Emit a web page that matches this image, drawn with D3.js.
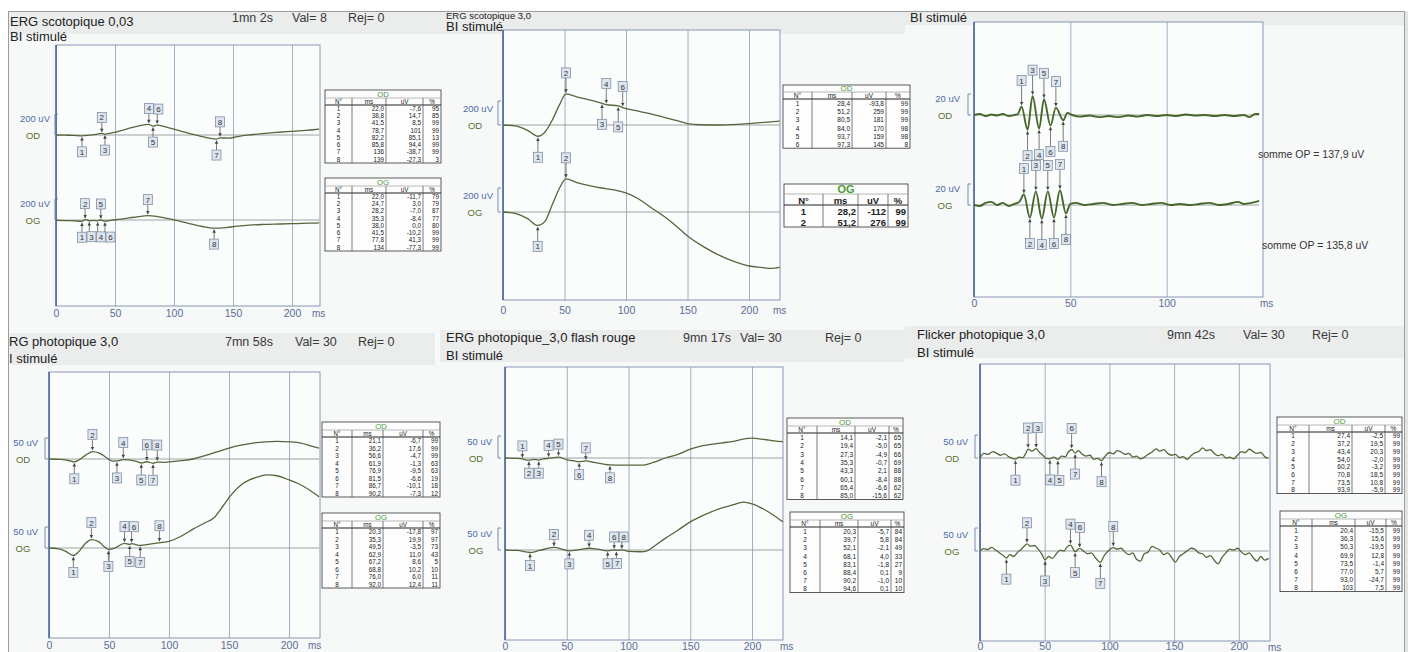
<!DOCTYPE html>
<html>
<head>
<meta charset="utf-8">
<script src="https://cdn.jsdelivr.net/npm/d3@7"></script>
<style>
  body { margin: 0; background: #fff; }
  svg { display: block; }
</style>
</head>
<body>
<svg></svg>
<script>
// ---- shared tick values
const tickMs = [0, 50, 100, 150, 200];
const tickMsOP = [0, 50, 100];
const tableHead = ["N°", "ms", "uV", "%"];

// ---- ERG scotopique 0,03  (traces: [ms, uV], tables: [n, ms, uV, %])
const scot003Info = ["1mn 2s", "Val= 8", "Rej= 0"];
const scot003OD = [[0,0],[8,-2],[15,-4],[22,-7.6],[28,-2],[34,6],[38.8,14.7],[41.5,8.5],[48,22],[56,45],[64,70],[72,92],[78.7,101],[82.2,85.1],[85.8,94.4],[92,80],[100,55],[108,30],[116,5],[124,-15],[130,-30],[136,-38.7],[139,-27.3],[146,-30],[154,-15],[162,-2],[172,10],[184,22],[196,32],[208,42],[218,50],[223,55]];
const scot003OG = [[0,-3],[8,-6],[15,-8],[22,-11.7],[24.7,3],[28.2,-7],[32,-3],[35.3,-8.4],[38,0],[41.5,-10.2],[47,-2],[55,8],[62,20],[70,33],[77.8,41.3],[85,35],[92,20],[100,2],[108,-20],[116,-42],[124,-62],[134,-77.3],[144,-72],[154,-58],[164,-48],[176,-42],[190,-38],[204,-34],[216,-30],[223,-28]];
const scot003TabOD = [[1,22.0,-7.6,95],[2,38.8,14.7,85],[3,41.5,8.5,99],[4,78.7,101,99],[5,82.2,85.1,13],[6,85.8,94.4,99],[7,136,-38.7,99],[8,139,-27.3,3]];
const scot003KindOD = ["T","P","T","P","T","P","T","P"];
const scot003TabOG = [[1,22.0,-11.7,79],[2,24.7,3.0,79],[3,28.2,-7.0,87],[4,35.3,-8.4,77],[5,38.0,0.0,80],[6,41.5,-10.2,99],[7,77.8,41.3,99],[8,134,-77.3,99]];
const scot003KindOG = ["T","P","T","T","P","T","P","T"];

// ---- ERG scotopique 3,0
const scot30OD = [[0,0],[10,-8],[20,-45],[28.4,-93.8],[34,-60],[40,40],[46,170],[51.2,259],[60,235],[70,210],[80.5,181],[84,170],[93.7,159],[97.3,145],[110,115],[125,80],[140,40],[150,12],[160,2],[175,0],[190,5],[200,12],[212,22],[225,32]];
const scot30OG = [[0,0],[10,-12],[20,-55],[28.2,-112],[34,-80],[40,60],[46,200],[51.2,276],[60,245],[70,220],[80,200],[90,185],[100,160],[110,110],[120,40],[130,-30],[140,-110],[150,-200],[160,-270],[170,-330],[180,-380],[190,-420],[200,-450],[210,-462],[218,-470],[225,-462]];
const scot30TabOD = [[1,28.4,-93.8,99],[2,51.2,259,99],[3,80.5,181,99],[4,84.0,170,98],[5,93.7,159,98],[6,97.3,145,8]];
const scot30KindOD = ["T","P","T","P","T","P"];
const scot30TabOG = [[1,28.2,-112,99],[2,51.2,276,99]];
const scot30KindOG = ["T","P"];

// ---- potentiels oscillatoires
const opOD = [[0,0],[3,1],[6,-1],[9,0.5],[12,-0.5],[15,1],[18,-1],[21,0],[22.8,1],[24.7,8],[27.8,-14],[30.4,18],[33.8,-13],[36.3,15],[39.7,-10],[42.5,7],[46.3,-5],[48.5,2],[51,0],[55,-1.5],[60,-0.5],[65,-2],[70,-1],[75,-2],[80,-0.5],[85,-1.5],[90,0],[95,-1],[100,0],[105,-1],[110,0.5],[115,-0.5],[120,0],[125,-1],[130,0],[135,-1],[140,0],[143,-2],[146,1],[148,1]];
const opOG = [[0,0],[3,-1],[6,2],[9,3],[12,0],[15,2],[18,-1],[21,1],[23.5,3],[25.9,10],[29,-12],[32.1,13],[35.2,-13],[38.3,13],[41.5,-12],[44.6,14],[47.7,-8],[50,1],[53,2],[57,0],[62,1],[67,2],[72,0],[77,1],[82,2],[87,0],[92,1],[97,2],[102,0],[107,1],[112,0],[117,1],[122,2],[127,0],[132,1],[137,3],[140,1],[144,2],[148,4]];
const opMarkOD = [[1,24.7,8],[2,27.8,-14],[3,30.4,18],[4,33.8,-13],[5,36.3,15],[6,39.7,-10],[7,42.5,7],[8,46.3,-5]];
const opMarkOG = [[1,25.9,10],[2,29.0,-12],[3,32.1,13],[4,35.2,-13],[5,38.3,13],[6,41.5,-12],[7,44.6,14],[8,47.7,-8]];
const opKind = ["P","T","P","T","P","T","P","T"];
const opSums = ["somme OP = 137,9 uV", "somme OP = 135,8 uV"];

// ---- ERG photopique 3,0
const phot30Info = ["7mn 58s", "Val= 30", "Rej= 0"];
const phot30OD = [[0,0],[10,-1],[15,-3],[21.1,-6.7],[25,-2],[30,8],[36.2,17.6],[42,14],[48,3],[53,-5],[56.6,-4.7],[61.9,-1.3],[66,-2],[72,-5],[76.9,-9.5],[81.5,-6.6],[86.7,-10.1],[90.2,-7.3],[95,-8],[100,-7],[110,-4],[120,0],[130,8],[140,17],[150,26],[160,33],[170,38],[180,41],[190,42],[200,41],[210,38],[218,31],[225,26]];
const phot30OG = [[0,0],[8,-2],[14,-8],[20.3,-17.8],[25,-8],[30,10],[35.3,19.9],[42,14],[46,3],[49.5,-3.5],[55,0],[62.9,11],[67.2,8.6],[68.8,10.2],[76,6],[84,9],[92,12.4],[100,16],[110,28],[120,45],[130,60],[137,71],[145,100],[150,120],[160,150],[167,162],[175,170],[182,174],[190,172],[200,162],[210,150],[217,138],[225,122]];
const phot30TabOD = [[1,21.1,-6.7,99],[2,36.2,17.6,99],[3,56.6,-4.7,99],[4,61.9,-1.3,63],[5,76.9,-9.5,63],[6,81.5,-6.6,19],[7,86.7,-10.1,18],[8,90.2,-7.3,12]];
const phot30TabOG = [[1,20.3,-17.8,97],[2,35.3,19.9,97],[3,49.5,-3.5,73],[4,62.9,11.0,43],[5,67.2,8.6,5],[6,68.8,10.2,10],[7,76.0,6.0,11],[8,92.0,12.4,11]];
const phot30Kind = ["T","P","T","P","T","P","T","P"];

// ---- ERG photopique_3,0 flash rouge
const rougeInfo = ["9mn 17s", "Val= 30", "Rej= 0"];
const rougeOD = [[0,0],[10,-1],[14.1,-2.1],[19.4,-5],[23,-3],[27.3,-4.9],[31,-2],[35.3,-0.7],[40,1],[43.3,2.1],[50,-4],[55,-6],[60.1,-8.4],[65.4,-6.6],[72,-10],[80,-14],[85,-15.6],[95,-16],[105,-16],[112,-16],[120,-10],[130,0],[140,8],[150,20],[160,28],[175,34],[185,38],[195,44],[200,45],[210,42],[218,39],[225,37]];
const rougeOG = [[0,0],[10,-1],[20.3,-5.7],[28,-1],[39.7,5.8],[46,2],[52.1,-2.1],[60,1],[68.1,4],[75,2],[83.1,-1.8],[88.4,0.1],[90.2,-1],[94.6,0.1],[100,-3],[110,-4],[115,-2],[120,7],[130,27],[140,45],[150,64],[160,78],[175,95],[185,103],[193,109],[200,105],[210,92],[218,78],[225,64]];
const rougeTabOD = [[1,14.1,-2.1,65],[2,19.4,-5.0,65],[3,27.3,-4.9,66],[4,35.3,-0.7,69],[5,43.3,2.1,88],[6,60.1,-8.4,88],[7,65.4,-6.6,62],[8,85.0,-15.6,62]];
const rougeKindOD = ["P","T","T","P","P","T","P","T"];
const rougeTabOG = [[1,20.3,-5.7,84],[2,39.7,5.8,84],[3,52.1,-2.1,49],[4,68.1,4.0,33],[5,83.1,-1.8,27],[6,88.4,0.1,9],[7,90.2,-1.0,10],[8,94.6,0.1,10]];
const rougeKindOG = ["T","P","T","P","T","P","T","P"];

// ---- Flicker photopique 3,0
const flickInfo = ["9mn 42s", "Val= 30", "Rej= 0"];
const flickOD = [[0,0],[3,10],[6,8],[10,14],[13,10],[16,6],[19,9],[22,3],[25,-1],[27.4,-2.5],[30,2],[33,1],[35,8],[37.2,19.5],[40,15],[43.4,20.3],[46,12],[49,5],[51,-1],[54,-2],[57,2],[60.2,-3.2],[63,4],[66,3],[68,12],[70.8,18.5],[73.5,10.8],[76,16],[79,8],[82,4],[85,6],[88,-3],[91,-1],[93.9,-5.9],[97,5],[100,12],[103,9],[106,16],[109,13],[112,8],[115,10],[118,2],[121,4],[124,-2],[127,2],[130,8],[133,13],[136,20],[139,15],[142,18],[145,10],[148,6],[151,8],[154,1],[157,3],[160,-3],[163,5],[166,11],[169,14],[172,22],[175,16],[178,18],[181,10],[184,5],[187,8],[190,0],[193,2],[196,-2],[199,6],[202,14],[205,12],[208,19],[211,14],[214,10],[217,12],[220,3],[223,-1]];
const flickOG = [[0,0],[3,5],[6,3],[9,8],[12,2],[15,-4],[18,-10],[20.4,-15.5],[23,-8],[26,-12],[29,-3],[32,4],[34,10],[36.3,15.6],[39,10],[42,12],[45,4],[48,-8],[50.3,-19.5],[53,-12],[56,-16],[59,-6],[62,2],[65,0],[67,8],[69.9,12.8],[73.5,-1.4],[77,5.7],[80,0],[83,-6],[86,-4],[89,-14],[93,-24.7],[96,-10],[99,0],[103,7.5],[106,4],[109,6],[112,-2],[115,-8],[118,-4],[121,-18],[124,-22],[127,-6],[130,-2],[133,10],[136,6],[139,2],[142,-8],[145,-4],[148,-14],[151,-24],[154,-12],[157,-6],[160,0],[163,6],[166,4],[169,-4],[172,-6],[175,-14],[178,-10],[181,-20],[184,-28],[187,-14],[190,-4],[193,4],[196,2],[199,6],[202,-2],[205,-8],[208,-4],[211,-14],[214,-22],[217,-12],[220,-20],[223,-16]];
const flickTabOD = [[1,27.4,-2.5,99],[2,37.2,19.5,99],[3,43.4,20.3,99],[4,54.0,-2.0,99],[5,60.2,-3.2,99],[6,70.8,18.5,99],[7,73.5,10.8,99],[8,93.9,-5.9,99]];
const flickKindOD = ["T","P","P","T","T","P","T","T"];
const flickTabOG = [[1,20.4,-15.5,99],[2,36.3,15.6,99],[3,50.3,-19.5,99],[4,69.9,12.8,99],[5,73.5,-1.4,99],[6,77.0,5.7,99],[7,93.0,-24.7,99],[8,103,7.5,99]];
const flickKindOG = ["T","P","T","P","T","P","T","P"];

// ---- layout of the six panels
const W = 1408, H = 652;
const FONT = '"Liberation Sans", Arial, sans-serif';

const panels = [
  { title: "ERG scotopique 0,03", sub: "BI stimulé", info: scot003Info,
    tx: 10, ty: 26, sy: 41, iy: 22, infoX: [232, 292, 348], band: [8, 11, 432, 23],
    x0: 56, x1: 320, xMax: 223.7, ticks: tickMs, pad: 3.5, msX: 312,
    barUV: 200, barPx: 21, labX: 50, eyeX: 33, brX: 55, off: 16,
    traces: [
      { eye: "OD", base: 135, pts: scot003OD, tab: scot003TabOD, kinds: scot003KindOD,
        table: { x: 325, y: 90, w: 116, cols: [27, 61, 98], hT: 8, hH: 7, hR: 7.25, fs: 6.3 } },
      { eye: "OG", base: 220, pts: scot003OG, tab: scot003TabOG, kinds: scot003KindOG,
        table: { x: 325, y: 178, w: 116, cols: [27, 61, 98], hT: 8, hH: 7, hR: 7.25, fs: 6.3 } }
    ] },
  { title: "ERG scotopique 3,0", titleFs: 9.5, sub: "BI stimulé",
    tx: 446, ty: 18.5, sy: 31, band: [440, 11, 465, 23],
    x0: 503, x1: 780, xMax: 225.2, ticks: tickMs, pad: 6.5, msX: 773,
    barUV: 200, barPx: 24, labX: 493, eyeX: 475, brX: 498, off: 21,
    traces: [
      { eye: "OD", base: 125, pts: scot30OD, tab: scot30TabOD, kinds: scot30KindOD,
        table: { x: 783, y: 85, w: 127, cols: [29, 69, 103], hT: 7, hH: 7, hR: 8.2, fs: 6.5 } },
      { eye: "OG", base: 212, pts: scot30OG, tab: scot30TabOG, kinds: scot30KindOG,
        table: { x: 784, y: 184, w: 124, cols: [39, 74, 104], hT: 10, hH: 11, hR: 11, fs: 9.5, bold: true } }
    ] },
  { sub: "BI stimulé",
    tx: 910, sy: 22, band: [905, 11, 499, 14],
    x0: 974, x1: 1263, xMax: 150, ticks: tickMsOP, pad: 2.5, msX: 1260,
    barUV: 20, barPx: 21, labX: 960, eyeX: 945, brX: 968, off: 26, thick: true,
    notes: [{ x: 1258, y: 158, text: opSums[0] }, { x: 1262, y: 249, text: opSums[1] }],
    traces: [
      { eye: "OD", base: 115, pts: opOD, tab: opMarkOD, kinds: opKind },
      { eye: "OG", base: 205, pts: opOG, tab: opMarkOG, kinds: opKind }
    ] },
  { title: "RG photopique 3,0", sub: "I stimulé", info: phot30Info,
    tx: 9, ty: 346, sy: 363, iy: 346, infoX: [225, 295, 358], band: [8, 333, 427, 32],
    x0: 49, x1: 320, xMax: 225.8, ticks: tickMs, pad: 3.5, msX: 308,
    barUV: 50, barPx: 21, labX: 38, eyeX: 23, brX: 45, off: 17,
    traces: [
      { eye: "OD", base: 459, pts: phot30OD, tab: phot30TabOD, kinds: phot30Kind,
        table: { x: 322, y: 422, w: 118, cols: [30, 61, 101], hT: 8, hH: 7, hR: 7.5, fs: 6.3 } },
      { eye: "OG", base: 548, pts: phot30OG, tab: phot30TabOG, kinds: phot30Kind,
        table: { x: 322, y: 513, w: 118, cols: [30, 61, 101], hT: 8, hH: 7, hR: 7.5, fs: 6.3 } }
    ] },
  { title: "ERG photopique_3,0 flash rouge", sub: "BI stimulé", info: rougeInfo,
    tx: 446, ty: 342, sy: 360, iy: 342, infoX: [683, 740, 825], band: [440, 330, 465, 32],
    x0: 505, x1: 783, xMax: 225.1, ticks: tickMs, pad: 2.5, msX: 780,
    barUV: 50, barPx: 22, labX: 492, eyeX: 476, brX: 498, off: 13,
    traces: [
      { eye: "OD", base: 458, pts: rougeOD, tab: rougeTabOD, kinds: rougeKindOD,
        table: { x: 787, y: 418, w: 116, cols: [30, 68, 102], hT: 8, hH: 7, hR: 8.3, fs: 6.5 } },
      { eye: "OG", base: 550, pts: rougeOG, tab: rougeTabOG, kinds: rougeKindOG,
        table: { x: 790, y: 512, w: 114, cols: [30, 68, 101], hT: 8, hH: 7, hR: 8.2, fs: 6.5 } }
    ] },
  { title: "Flicker photopique 3,0", sub: "BI stimulé", info: flickInfo,
    tx: 917, ty: 339, sy: 357, iy: 339, infoX: [1167, 1243, 1312], band: [905, 326, 499, 32],
    x0: 980, x1: 1270, xMax: 224.1, ticks: tickMs, pad: 2, msX: 1268,
    barUV: 50, barPx: 23, labX: 968, eyeX: 952, brX: 975, off: 21,
    traces: [
      { eye: "OD", base: 458, pts: flickOD, tab: flickTabOD, kinds: flickKindOD,
        table: { x: 1277, y: 417, w: 125, cols: [32, 75, 108], hT: 8, hH: 7, hR: 7.7, fs: 6.5 } },
      { eye: "OG", base: 551, pts: flickOG, tab: flickTabOG, kinds: flickKindOG,
        table: { x: 1280, y: 511, w: 122, cols: [32, 75, 106], hT: 8, hH: 7, hR: 8.2, fs: 6.5 } }
    ] }
];
// plot frames (perspective of the photo)
panels[0].top = 45;  panels[0].bottom = 306;
panels[1].top = 30;  panels[1].bottom = 300;
panels[2].top = 22;  panels[2].bottom = 297;
panels[3].top = 372; panels[3].bottom = 638;
panels[4].top = 367; panels[4].bottom = 640;
panels[5].top = 364; panels[5].bottom = 641;

const fmt = v => Math.abs(v) >= 100 ? String(Math.round(v)) : v.toFixed(1).replace(".", ",");

const svg = d3.select("svg").attr("width", W).attr("height", H)
    .attr("font-family", FONT);

svg.append("rect").attr("width", W).attr("height", H).attr("fill", "#fff");
svg.append("defs").append("clipPath").attr("id", "page")
  .append("rect").attr("x", 8).attr("y", 11).attr("width", 1396).attr("height", H - 11);

const root = svg.append("g").attr("clip-path", "url(#page)");
root.append("rect").attr("x", 8).attr("y", 11).attr("width", 1396).attr("height", H - 11)
    .attr("fill", "#f7f8f8");

panels.forEach(p => drawPanel(root, p));

// outer frame of the photographed sheet
svg.append("rect").attr("x", 1404.5).attr("y", 11).attr("width", 4).attr("height", H - 11).attr("fill", "#e3e4e4");
svg.append("path").attr("d", `M8.5,${H} V11.5 H1404.5 V${H}`)
    .attr("fill", "none").attr("stroke", "#9c9c9c").attr("stroke-width", 1);

function drawPanel(root, p) {
  const g = root.append("g");

  // title band
  g.append("rect").attr("x", p.band[0]).attr("y", p.band[1])
      .attr("width", p.band[2]).attr("height", p.band[3]).attr("fill", "#ebecec");
  if (p.title)
    g.append("text").attr("x", p.tx).attr("y", p.ty).attr("font-size", p.titleFs || 13)
        .attr("fill", "#222").text(p.title);
  if (p.sub)
    g.append("text").attr("x", p.tx).attr("y", p.sy).attr("font-size", 13)
        .attr("fill", "#222").text(p.sub);
  if (p.info)
    p.info.forEach((s, i) => g.append("text").attr("x", p.infoX[i]).attr("y", p.iy)
        .attr("font-size", 12.5).attr("fill", "#3a3a3a").text(s));

  const x = d3.scaleLinear().domain([0, p.xMax]).range([p.x0, p.x1]);

  // white plot area
  g.append("rect").attr("x", p.x0).attr("y", p.top)
      .attr("width", p.x1 - p.x0).attr("height", p.bottom - p.top).attr("fill", "#fbfcfc");

  // axis, its tick lines double as the vertical grid
  const ax = g.append("g").attr("transform", `translate(0,${p.bottom})`)
      .call(d3.axisBottom(x).tickValues(p.ticks)
        .tickSizeInner(-(p.bottom - p.top)).tickSizeOuter(0).tickPadding(p.pad));
  ax.attr("font-family", FONT).attr("font-size", 10.5);
  ax.select(".domain").remove();
  ax.selectAll(".tick line").attr("stroke", "#8e9cb9").attr("stroke-width", 0.8);
  ax.selectAll(".tick text").attr("fill", "#5b6e96");
  g.append("text").attr("x", p.msX).attr("y", p.bottom + p.pad + 7.5)
      .attr("font-size", 10).attr("fill", "#5b6e96").text("ms");

  // frame
  g.append("rect").attr("x", p.x0).attr("y", p.top)
      .attr("width", p.x1 - p.x0).attr("height", p.bottom - p.top)
      .attr("fill", "none").attr("stroke", "#7d8db0").attr("stroke-width", 0.9);
  g.append("line").attr("x1", p.x0).attr("x2", p.x0).attr("y1", p.top).attr("y2", p.bottom)
      .attr("stroke", "#3f5c99").attr("stroke-width", 1.3);

  p.traces.forEach(t => {
    const y = d3.scaleLinear().domain([0, p.barUV]).range([t.base, t.base - p.barPx]);

    // baseline
    g.append("line").attr("x1", p.x0).attr("x2", x(d3.max(t.pts, d => d[0])))
        .attr("y1", t.base).attr("y2", t.base)
        .attr("stroke", "#8a8a8a").attr("stroke-width", 0.8);

    // amplitude bar and labels
    g.append("path")
        .attr("d", `M${p.brX + 3},${y(p.barUV)} H${p.brX} V${y(0)} H${p.brX + 3}`)
        .attr("fill", "none").attr("stroke", "#6b7fa8").attr("stroke-width", 0.9);
    g.append("text").attr("x", p.labX).attr("y", t.base - 13).attr("text-anchor", "end")
        .attr("font-size", 9.5).attr("fill", "#4b6ea8").text(`${p.barUV} uV`);
    g.append("text").attr("x", p.eyeX).attr("y", t.base + 3.5).attr("text-anchor", "middle")
        .attr("font-size", 9.5).attr("fill", "#55702a").text(t.eye);

    // the trace
    const line = d3.line().x(d => x(d[0])).y(d => y(d[1])).curve(d3.curveMonotoneX);
    g.append("path").datum(t.pts).attr("d", line)
        .attr("fill", "none")
        .attr("stroke", p.thick ? "#46662a" : "#56663c")
        .attr("stroke-width", p.thick ? 1.9 : 1.3)
        .attr("stroke-linejoin", "round");

    drawMarks(g, x, y, t.tab, t.kinds, p.off);
    if (t.table) drawTable(g, t.table, t.eye, t.tab);
  });

  if (p.notes)
    p.notes.forEach(n => g.append("text").attr("x", n.x).attr("y", n.y)
        .attr("font-size", 10.5).attr("fill", "#333").text(n.text));
}

function drawMarks(g, x, y, tab, kinds, off) {
  const bw = 9, bh = 10;
  const items = tab.map((r, i) => {
    const dir = kinds[i] === "P" ? -1 : 1;
    const px = x(r[1]), py = y(r[2]);
    return { n: r[0], px, py, dir, cx: px, cy: py + dir * off };
  });
  // keep boxes on the same side from overlapping
  [-1, 1].forEach(d => {
    let prev = null;
    items.filter(m => m.dir === d).sort((a, b) => a.px - b.px).forEach(m => {
      if (prev && m.cx < prev.cx + bw + 0.5 && Math.abs(m.cy - prev.cy) < bh) m.cx = prev.cx + bw + 0.5;
      prev = m;
    });
  });

  items.forEach(m => {
    const tip = m.py + m.dir * 1.5;
    g.append("line").attr("x1", m.px).attr("x2", m.px)
        .attr("y1", m.cy - m.dir * bh / 2).attr("y2", tip)
        .attr("stroke", "#444").attr("stroke-width", 0.7);
    g.append("path")
        .attr("d", `M${m.px - 1.8},${tip + m.dir * 3.2} L${m.px + 1.8},${tip + m.dir * 3.2} L${m.px},${tip} Z`)
        .attr("fill", "#444");
    g.append("rect").attr("x", m.cx - bw / 2).attr("y", m.cy - bh / 2)
        .attr("width", bw).attr("height", bh)
        .attr("fill", "#dde5ee").attr("stroke", "#76839a").attr("stroke-width", 0.7);
    g.append("text").attr("x", m.cx).attr("y", m.cy + 3).attr("text-anchor", "middle")
        .attr("font-size", 8).attr("fill", "#333").text(m.n);
  });
}

function drawTable(g, t, eye, rows) {
  const h = t.hT + t.hH + rows.length * t.hR;
  const tg = g.append("g").attr("transform", `translate(${t.x},${t.y})`)
      .attr("font-size", t.fs).attr("font-weight", t.bold ? "bold" : "normal");
  tg.append("rect").attr("width", t.w).attr("height", h)
      .attr("fill", "#fdfdfd").attr("stroke", "#333").attr("stroke-width", 0.8);
  tg.append("line").attr("x1", 0).attr("x2", t.w).attr("y1", t.hT).attr("y2", t.hT)
      .attr("stroke", "#999").attr("stroke-width", 0.7);
  tg.append("text").attr("x", t.w / 2).attr("y", t.hT - 1).attr("text-anchor", "middle")
      .attr("font-size", t.fs + 1.5).attr("fill", "#4c9a3a").text(eye);
  tg.append("line").attr("x1", 0).attr("x2", t.w).attr("y1", t.hT + t.hH).attr("y2", t.hT + t.hH)
      .attr("stroke", "#222").attr("stroke-width", 1);
  t.cols.forEach(c => tg.append("line").attr("x1", c).attr("x2", c)
      .attr("y1", t.hT).attr("y2", h).attr("stroke", "#444").attr("stroke-width", 0.7));

  const edges = [0, ...t.cols, t.w];
  tableHead.forEach((s, i) => tg.append("text")
      .attr("x", (edges[i] + edges[i + 1]) / 2).attr("y", t.hT + t.hH - 1)
      .attr("text-anchor", "middle").attr("fill", "#222").text(s));

  rows.forEach((r, i) => {
    const yy = t.hT + t.hH + (i + 1) * t.hR - 1.3;
    tg.append("text").attr("x", edges[1] / 2).attr("y", yy).attr("text-anchor", "middle")
        .attr("fill", "#222").text(r[0]);
    tg.append("text").attr("x", edges[2] - 2).attr("y", yy).attr("text-anchor", "end")
        .attr("fill", "#222").text(fmt(r[1]));
    tg.append("text").attr("x", edges[3] - 2).attr("y", yy).attr("text-anchor", "end")
        .attr("fill", "#222").text(fmt(r[2]));
    tg.append("text").attr("x", edges[4] - 2).attr("y", yy).attr("text-anchor", "end")
        .attr("fill", "#222").text(r[3]);
  });
}
</script>
</body>
</html>
